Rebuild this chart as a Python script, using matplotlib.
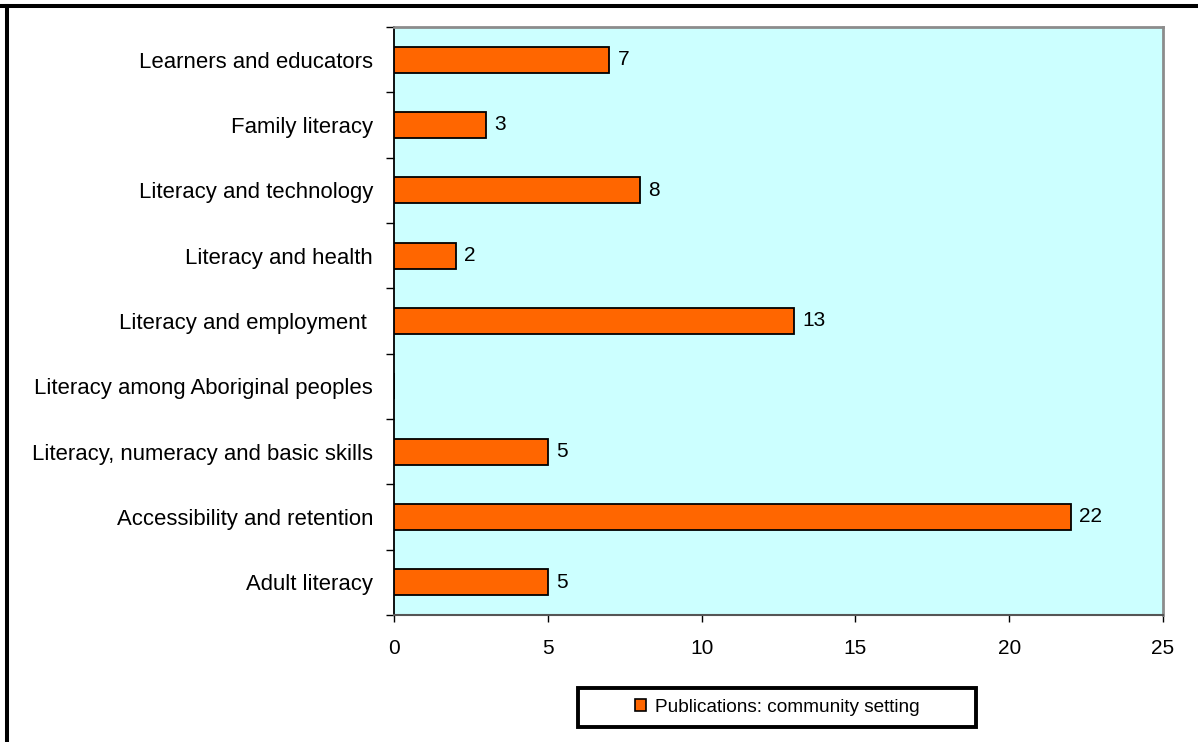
import matplotlib

matplotlib.use("Agg")
import matplotlib.pyplot as plt
from matplotlib.lines import Line2D
from matplotlib.patches import Patch, Rectangle
import numpy as np

plt.rcParams["font.family"] = ["Liberation Sans", "DejaVu Sans"]

# bottom-to-top order, as drawn on the y axis
topics = [
    "Adult literacy",
    "Accessibility and retention",
    "Literacy, numeracy and basic skills",
    "Literacy among Aboriginal peoples",
    "Literacy and employment ",
    "Literacy and health",
    "Literacy and technology",
    "Family literacy",
    "Learners and educators",
]
publications = [5, 22, 5, None, 13, 2, 8, 3, 7]
x_ticks = [0, 5, 10, 15, 20, 25]

bar_color = "#FF6600"
plot_bg = "#CCFFFF"
frame_grey = "#8C8C8C"

W, H = 1198, 742
fig = plt.figure(figsize=(W / 100, H / 100), dpi=100)
ax = fig.add_axes([394 / W, 1 - 615 / H, 769 / W, 588 / H])
ax.set_facecolor(plot_bg)

y = np.arange(len(topics))
vals = np.array([np.nan if v is None else v for v in publications], dtype=float)
ax.barh(y, np.nan_to_num(vals), height=0.4, color=bar_color,
        edgecolor="black", linewidth=1.3, zorder=3)
for yi, v in zip(y, publications):
    if v is None:
        continue
    ax.annotate(str(v), (v, yi), xytext=(6, 0), textcoords="offset points",
                ha="left", va="center", fontsize=15, color="black")

ax.set_xlim(0, 25)
ax.set_ylim(-0.5, len(topics) - 0.5)
ax.set_xticks(x_ticks)
ax.set_xticklabels([str(t) for t in x_ticks], fontsize=15)
# category labels sit between boundary tick marks, Excel style
ax.set_yticks(y)
ax.set_yticklabels(topics, fontsize=15.9)
ax.tick_params(axis="y", length=0, pad=15)
ax.set_yticks(np.arange(-0.5, len(topics)), minor=True)
ax.tick_params(axis="y", which="minor", length=5.8, width=1, color="black")
ax.tick_params(axis="x", length=5, width=1, color="black", pad=12)

for side in ("top", "right"):
    ax.spines[side].set_color(frame_grey)
    ax.spines[side].set_linewidth(2)
ax.spines["left"].set_color("black")
ax.spines["left"].set_linewidth(1.3)
ax.spines["bottom"].set_color("#555555")
ax.spines["bottom"].set_linewidth(1.5)

# legend box with a heavy outline
lx0, ly0, lx1, ly1 = 578, 688, 976, 727
fig.add_artist(Rectangle((lx0 / W, 1 - ly1 / H), (lx1 - lx0) / W, (ly1 - ly0) / H,
                         transform=fig.transFigure, facecolor="white",
                         edgecolor="black", linewidth=2.8, zorder=1))
handle = Patch(facecolor=bar_color, edgecolor="black", linewidth=1.2)
leg = fig.legend([handle], ["Publications: community setting"],
                 loc="center", bbox_to_anchor=((lx0 + lx1) / 2 / W, 1 - (ly0 + ly1) / 2 / H),
                 fontsize=13.7, frameon=False,
                 handlelength=0.6, handleheight=0.6, handletextpad=0.45,
                 borderpad=0, borderaxespad=0)
leg.set_zorder(2)

# outer chart border: only the top and left edges fall inside the image
fig.add_artist(Line2D([0, 1], [1 - 6 / H, 1 - 6 / H], color="black",
                      linewidth=2.9, transform=fig.transFigure))
fig.add_artist(Line2D([7 / W, 7 / W], [0, 1 - 6 / H], color="black",
                      linewidth=2.9, transform=fig.transFigure))

fig.savefig("out.png", dpi=100)
